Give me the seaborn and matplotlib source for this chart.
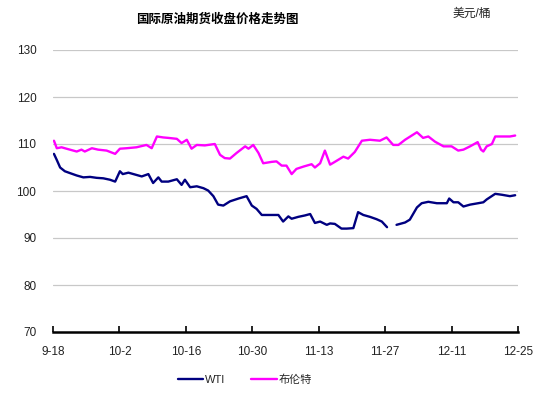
import numpy as np
import pandas as pd
import matplotlib
matplotlib.use("Agg")
import matplotlib.pyplot as plt
import seaborn as sns
from matplotlib.lines import Line2D

# ---- data (day offset from 9-18, price in USD/bbl) ----
tick_days = [0, 14, 28, 42, 56, 70, 84, 98]
tick_labels = ["9-18", "10-2", "10-16", "10-30", "11-13", "11-27", "12-11", "12-25"]

wti_day = [0.2, 0.8, 1.5, 2.5, 3.6, 5.0, 6.4, 7.8, 9.2, 10.6, 12.0, 13.1, 14.1, 14.7,
           15.9, 17.3, 18.7, 20.1, 21.1, 22.2, 22.9, 24.3, 26.1, 27.1, 27.8, 28.9,
           30.3, 31.7, 32.7, 33.8, 34.8, 35.9, 37.3, 39.1, 40.8, 41.9, 42.9, 44.0,
           46.1, 47.5, 48.5, 49.6, 50.3, 51.7, 53.1, 54.2, 55.2, 56.3, 57.7, 58.4,
           59.4, 60.8, 61.9, 63.3, 64.3, 65.4, 66.8, 68.2, 69.3, 70.4,
           72.4, 74.2, 75.2, 76.7, 77.7, 79.1, 80.9, 83.0, 83.5, 84.4, 85.4, 86.5,
           87.9, 89.6, 90.7, 91.4, 93.2, 94.6, 96.3, 97.4]
wti_val = [107.9, 106.6, 105.0, 104.2, 103.8, 103.3, 102.9, 103.0, 102.8, 102.7, 102.4,
           102.0, 104.2, 103.6, 103.9, 103.5, 103.1, 103.6, 101.7, 102.9, 102.0, 102.0,
           102.5, 101.3, 102.4, 100.8, 101.0, 100.6, 100.1, 98.9, 97.1, 96.9, 97.8,
           98.4, 98.9, 96.9, 96.2, 94.9, 94.9, 94.9, 93.5, 94.6, 94.1, 94.5, 94.8,
           95.1, 93.2, 93.5, 92.8, 93.1, 93.0, 92.0, 92.0, 92.1, 95.5, 94.9, 94.5,
           94.0, 93.5, 92.3,
           92.8, 93.3, 93.9, 96.5, 97.4, 97.7, 97.4, 97.4, 98.4, 97.6, 97.6, 96.7,
           97.1, 97.4, 97.6, 98.2, 99.4, 99.2, 98.9, 99.1]
wti_seg = [0] * 60 + [1] * 20

brent_day = [0.2, 0.8, 1.8, 3.2, 5.0, 6.0, 6.7, 8.2, 9.5, 11.3, 13.1, 14.1, 15.5, 17.6,
             19.7, 20.8, 21.9, 23.2, 24.3, 26.1, 27.1, 28.2, 29.2, 30.3, 32.0, 34.1,
             35.2, 36.2, 37.3, 38.7, 40.5, 41.2, 42.2, 43.3, 44.3, 46.1, 47.1, 48.2,
             49.2, 50.3, 51.3, 52.8, 54.5, 55.2, 56.3, 57.3, 58.4, 59.4, 61.2, 62.2,
             63.6, 65.1, 66.8, 68.9, 70.3, 71.7, 72.8, 74.2, 76.7, 78.0, 79.1, 80.5,
             82.3, 84.0, 85.4, 86.5, 87.9, 89.5, 90.2, 90.7, 91.4, 92.5, 93.2, 94.9,
             96.3, 97.4]
brent_val = [110.7, 109.1, 109.3, 108.9, 108.4, 108.8, 108.4, 109.1, 108.8, 108.6,
             107.9, 109.0, 109.1, 109.3, 109.8, 109.1, 111.6, 111.4, 111.3, 111.1,
             110.2, 110.9, 109.0, 109.8, 109.7, 110.0, 107.7, 107.0, 106.9, 108.1,
             109.5, 109.0, 109.8, 108.1, 105.9, 106.2, 106.3, 105.4, 105.4, 103.6,
             104.7, 105.2, 105.7, 105.0, 105.9, 108.6, 105.6, 106.2, 107.3, 106.9,
             108.3, 110.7, 110.9, 110.7, 111.4, 109.8, 109.8, 110.9, 112.5, 111.3,
             111.6, 110.5, 109.5, 109.5, 108.6, 108.8, 109.5, 110.4, 108.8, 108.4,
             109.5, 110.0, 111.6, 111.6, 111.6, 111.8]

series_names = ["WTI", "布伦特"]
colors = ["#000080", "#ff00ff"]

wti_df = pd.DataFrame({"day": wti_day, "price": wti_val, "seg": wti_seg})
brent_df = pd.DataFrame({"day": brent_day, "price": brent_val, "seg": 0})

sns.set_theme(style="white")
plt.rcParams["font.family"] = ["Liberation Sans", "Noto Sans CJK SC"]

fig = plt.figure(figsize=(5.42, 4.0), dpi=100)
ax = fig.add_axes([53 / 542, 1 - 332 / 400, 465 / 542, 282 / 400])

sns.lineplot(data=wti_df, x="day", y="price", units="seg", estimator=None,
             color=colors[0], lw=1.7, ax=ax)
sns.lineplot(data=brent_df, x="day", y="price", units="seg", estimator=None,
             color=colors[1], lw=1.7, ax=ax)

ax.set_xlim(0, 98)
ax.set_ylim(70, 130)
ax.set_yticks(range(70, 131, 10))
ax.set_xticks(tick_days)
ax.set_xticklabels(tick_labels)
ax.set_xlabel("")
ax.set_ylabel("")

for yv in range(80, 131, 10):
    ax.axhline(yv, color="#c8c8c8", lw=0.9, zorder=0)

for s in ["left", "right", "top"]:
    ax.spines[s].set_visible(False)
ax.spines["bottom"].set_color("black")
ax.spines["bottom"].set_linewidth(1.8)

ax.tick_params(axis="x", direction="in", length=4, width=1.2, colors="black",
               labelsize=8.5, pad=10, bottom=True, labelcolor="#222222")
ax.tick_params(axis="y", length=0, labelsize=8.5, pad=12, labelcolor="#222222")

fig.text(217 / 542, 1 - 20 / 400, "国际原油期货收盘价格走势图", ha="center",
         va="center", fontsize=9, fontweight="bold", color="black")
fig.text(472 / 542, 1 - 14 / 400, "美元/桶", ha="center", va="center",
         fontsize=8.5, color="#222222")

handles = [Line2D([0], [0], color=c, lw=1.7) for c in colors]
fig.legend(handles, series_names, loc="center", bbox_to_anchor=(245 / 542, 1 - 380 / 400),
           ncol=2, frameon=False, fontsize=8, handlelength=2.3, handletextpad=0.2,
           columnspacing=2.3)

fig.savefig("out.png", dpi=100)
